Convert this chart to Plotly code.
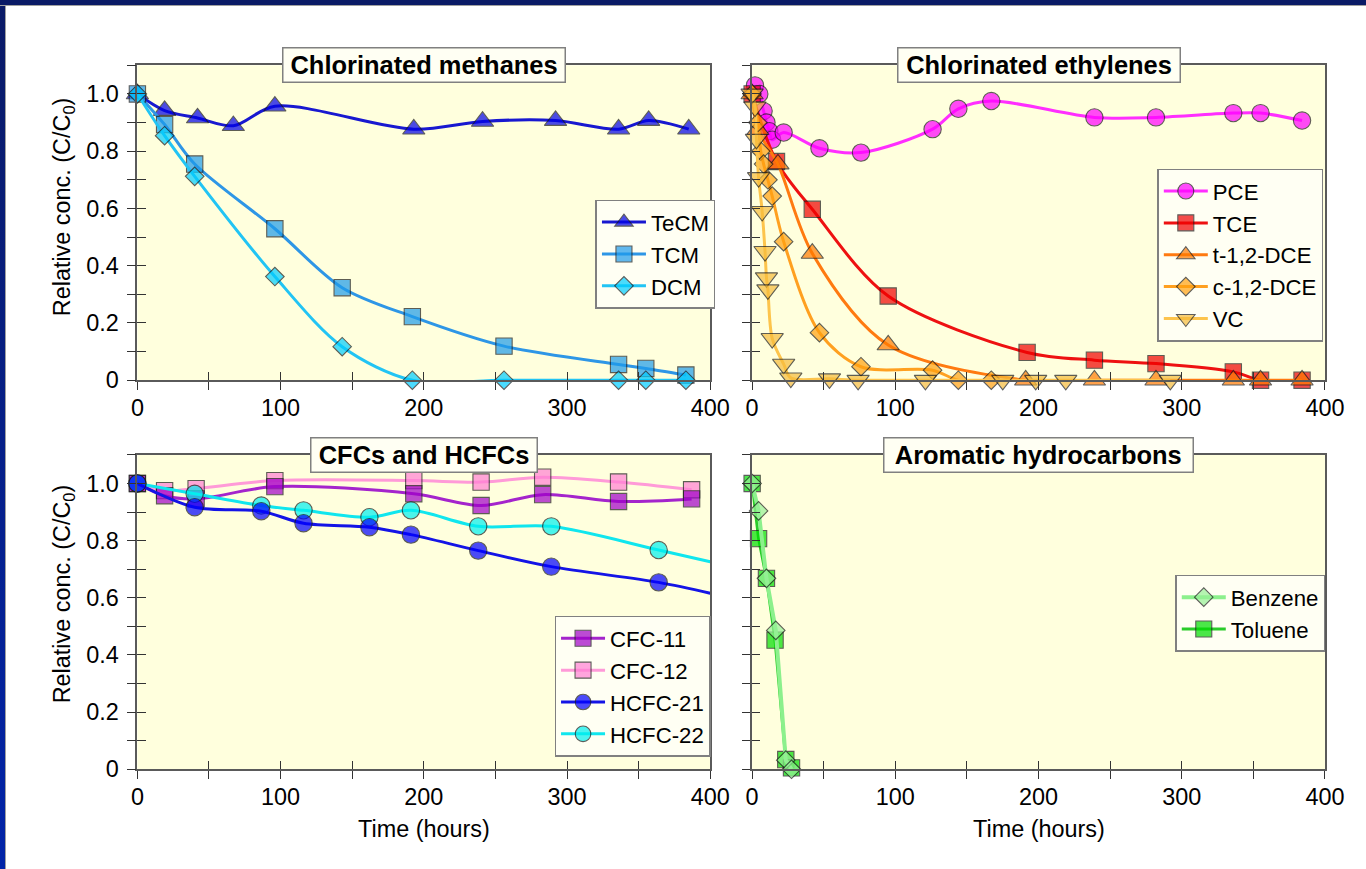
import plotly.graph_objects as go

# The photographed picture maps page pixels as  picture = S * page + (OX, OY);
# the layout below is given in picture (reference) pixels and converted back.
S, OX, OY = 0.982, 5.5, 1.0
K = 1 / S                      # size compensation for fonts / markers
MARGIN = 8                     # default browser body margin
W, H = 1366 - 2 * MARGIN, 869 - 2 * MARGIN

# ------------------------------------------------------------------ data
x_tickvals = [0, 100, 200, 300, 400]
x_ticktext = ["0", "100", "200", "300", "400"]
x_minorvals = [50, 150, 250, 350]
y_tickvals = [0, 0.2, 0.4, 0.6, 0.8, 1.0]
y_ticktext = ["0", "0.2", "0.4", "0.6", "0.8", "1.0"]
y_minorvals = [0.1, 0.3, 0.5, 0.7, 0.9, 1.1]

panel_titles = ["Chlorinated methanes", "Chlorinated ethylenes",
                "CFCs and HCFCs", "Aromatic hydrocarbons"]
y_title = "Relative conc. (C/C<sub>0</sub>)"
x_title = "Time (hours)"

# Chlorinated methanes
tecm_x = [0, 19, 42, 67, 96, 193, 241, 292, 336, 357, 385]
tecm_y = [1.0, 0.942, 0.916, 0.889, 0.957, 0.877, 0.904, 0.907, 0.877, 0.907, 0.877]
tcm_x = [0, 19, 40, 96, 143, 192, 256, 336, 355, 383]
tcm_y = [1.0, 0.893, 0.755, 0.529, 0.323, 0.222, 0.119, 0.055, 0.041, 0.018]
dcm_x = [0, 19, 40, 96, 143, 192, 256, 336, 355, 383]
dcm_y = [1.0, 0.854, 0.712, 0.362, 0.117, 0.0, 0.0, 0.0, 0.0, 0.0]

# Chlorinated ethylenes
pce_x = [2, 5, 8, 10, 12, 14, 22, 47, 76, 126, 144, 167, 239, 282, 336, 355, 384]
pce_y = [1.03, 1.0, 0.94, 0.90, 0.87, 0.84, 0.865, 0.81, 0.795, 0.877, 0.948,
         0.975, 0.918, 0.918, 0.933, 0.933, 0.907]
tce_x = [0, 17, 42, 95, 192, 239, 282, 336, 355, 384]
tce_y = [1.0, 0.764, 0.597, 0.294, 0.097, 0.070, 0.058, 0.029, 0.0, 0.0]
tdce_x = [0, 4, 18, 42, 95, 191, 239, 282, 336, 355, 384]
tdce_y = [1.0, 0.875, 0.755, 0.443, 0.123, 0.0, 0.0, 0.0, 0.0, 0.0, 0.0]
cdce_x = [0, 4, 6, 8, 11, 14, 22, 47, 76, 126, 144, 167]
cdce_y = [1.0, 0.90, 0.80, 0.755, 0.70, 0.643, 0.484, 0.166, 0.047, 0.035, 0.0, 0.0]
vc_x = [0, 2, 3, 4.5, 7, 9, 10, 11, 14, 22, 27, 54, 74, 121, 175, 198, 219, 292]
vc_y = [1.0, 0.955, 0.842, 0.708, 0.59, 0.45, 0.358, 0.316, 0.146, 0.056, 0.008,
        0.005, 0.0, 0.0, 0.0, 0.0, 0.0, 0.0]

# CFCs and HCFCs
cfc11_x = [0, 19, 41, 96, 193, 240, 283, 336, 387]
cfc11_y = [1.0, 0.957, 0.946, 0.989, 0.964, 0.923, 0.961, 0.937, 0.946]
cfc12_x = [0, 19, 41, 96, 193, 240, 283, 336, 387]
cfc12_y = [1.0, 0.975, 0.982, 1.01, 1.01, 1.005, 1.022, 1.005, 0.978]
hcfc21_x = [0, 40, 86.5, 116, 162, 191, 238, 289, 364, 400]
hcfc21_y = [1.0, 0.917, 0.903, 0.861, 0.847, 0.821, 0.765, 0.709, 0.654, 0.616]
hcfc22_x = [0, 40, 86.5, 116, 162, 191, 238, 289, 364, 400]
hcfc22_y = [1.0, 0.964, 0.923, 0.906, 0.882, 0.906, 0.85, 0.85, 0.767, 0.726]

# Aromatic hydrocarbons
benz_x = [0, 4.5, 10, 16.5, 23.5, 27.5]
benz_y = [1.0, 0.904, 0.668, 0.486, 0.032, 0.0]
tol_x = [0, 4.5, 10, 16, 23.5, 27.5]
tol_y = [1.0, 0.807, 0.668, 0.452, 0.034, 0.005]

# ------------------------------------------------------------------ styles
FONT = "Arial, Liberation Sans, sans-serif"
PLOT_BG = "#FFFFDD"
BOX_BG = "#FFFFF3"
BOX_LINE = "#808080"
TICK_COLOR = "#333333"
F_TICK, F_LEG, F_TITLE, F_AX = 23 * K, 21.8 * K, 25 * K, 23 * K


def fx(t):  # picture pixel -> paper x
    return ((t - OX) / S - MARGIN) / W


def fy(t):  # picture pixel -> paper y
    return 1 - ((t - OY) / S - MARGIN) / H


# panel picture-pixel boxes: left, right, top, bottom
panels = [(136, 710, 66, 380), (752, 1326, 66, 380),
          (136, 710, 454.5, 768), (752, 1326, 454.5, 768)]
title_box_w = [279, 279, 224, 305]
legend_pos = [(595, 200), (1158, 169), (554, 615), (1176, 574)]
x_title_pos = [(423, 828), (1039, 828)]
y_title_pos = [(62, 207), (62, 593)]

# draw order (later = on top); legend order given by rank
series = [
    # panel, rank, name, x, y, symbol, size, fill, line, width, shape
    (1, 1, "TeCM", tecm_x, tecm_y, "triangle-up", 19, "#0000E6", "#1818D0", 3, "spline"),
    (1, 2, "TCM", tcm_x, tcm_y, "square", 16, "#1E9BEB", "#2E96E6", 3, "spline"),
    (1, 3, "DCM", dcm_x, dcm_y, "diamond", 14, "#00CCFF", "#22C4F4", 3, "spline"),
    (2, 1, "PCE", pce_x, pce_y, "circle", 17, "#FF00FF", "#FF2EFF", 3, "spline"),
    (2, 2, "TCE", tce_x, tce_y, "square", 16, "#F00000", "#EE1111", 3, "spline"),
    (2, 3, "t-1,2-DCE", tdce_x, tdce_y, "triangle-up", 19, "#FF7A00", "#FF7A10", 3, "spline"),
    (2, 4, "c-1,2-DCE", cdce_x, cdce_y, "diamond", 14, "#FFA010", "#FFA020", 3, "spline"),
    (2, 5, "VC", vc_x, vc_y, "triangle-down", 19, "#F6BC3C", "#FDC44C", 3, "spline"),
    (3, 2, "CFC-12", cfc12_x, cfc12_y, "square", 16, "#FF80D4", "#FF9AD8", 3, "spline"),
    (3, 1, "CFC-11", cfc11_x, cfc11_y, "square", 16, "#A000C8", "#A424CC", 3, "spline"),
    (3, 4, "HCFC-22", hcfc22_x, hcfc22_y, "circle", 17, "#00F0F0", "#10E6EE", 3, "spline"),
    (3, 3, "HCFC-21", hcfc21_x, hcfc21_y, "circle", 17, "#0000FF", "#1414E6", 3, "spline"),
    (4, 2, "Toluene", tol_x, tol_y, "square", 16, "#00DD00", "#2ACC2A", 3, "linear"),
    (4, 1, "Benzene", benz_x, benz_y, "diamond", 14, "#96F096", "#8CF08C", 4, "linear"),
]


def sfx(n):
    return "" if n == 1 else str(n)


fig = go.Figure()

for (p, rank, name, xs, ys, sym, size, fill, line, lw, shape) in series:
    sizes = [size * K] * len(xs)
    if name in ("HCFC-21", "HCFC-22"):
        sizes[-1] = 0  # line continues to the frame edge without a marker
    fig.add_trace(go.Scatter(
        x=xs, y=ys, name=name, mode="lines+markers",
        xaxis="x" + sfx(p), yaxis="y" + sfx(p),
        legend="legend" + sfx(p), legendrank=rank,
        line=dict(color=line, width=lw, shape=shape, smoothing=0.9),
        marker=dict(symbol=sym, size=sizes, color=fill,
                    line=dict(color="#1A1A1A", width=1.1)),
        cliponaxis=False, hoverinfo="skip",
    ))

layout = dict(
    width=W, height=H,
    margin=dict(l=0, r=0, t=0, b=0),
    paper_bgcolor="white",
    plot_bgcolor=PLOT_BG,
    font=dict(family=FONT, color="black", size=F_TICK),
    showlegend=True,
)

annotations = []
TL = 8 * K

for i, (x0, x1, yt, yb) in enumerate(panels):
    n = i + 1
    dx = [fx(x0), fx(x1)]
    dy = [fy(yb), fy(yt)]
    common = dict(showgrid=False, zeroline=False, fixedrange=True,
                  tickcolor=TICK_COLOR, tickwidth=1.2, ticklen=TL)
    layout["xaxis" + sfx(n)] = dict(
        domain=dx, range=[0, 400], anchor="y" + sfx(n),
        tickmode="array", tickvals=x_tickvals, ticktext=x_ticktext,
        ticks="outside", showline=True, linecolor="#5A5A5A", linewidth=1.5,
        mirror=True, tickfont=dict(size=F_TICK), ticklabelstandoff=-2,
        minor=dict(tickmode="array", tickvals=x_minorvals, ticks="outside",
                   ticklen=TL, tickcolor=TICK_COLOR, tickwidth=1.2),
        **common)
    layout["yaxis" + sfx(n)] = dict(
        domain=dy, range=[0, 1.1], anchor="x" + sfx(n),
        tickmode="array", tickvals=y_tickvals, ticktext=y_ticktext,
        ticks="outside", showline=True, linecolor="#5A5A5A", linewidth=1.5,
        mirror=True, showticklabels=(n in (1, 3)), tickfont=dict(size=F_TICK),
        ticklabelstandoff=4,
        minor=dict(tickmode="array", tickvals=y_minorvals, ticks="outside",
                   ticklen=TL, tickcolor=TICK_COLOR, tickwidth=1.2),
        **common)
    # overlay axes that draw the inner half of the crossing ticks
    m = n + 4
    layout["xaxis" + str(m)] = dict(
        domain=dx, range=[0, 400], anchor="y" + str(m), overlaying="x" + sfx(n),
        tickmode="array", tickvals=x_tickvals + x_minorvals, ticks="inside",
        showticklabels=False, showline=False, **common)
    layout["yaxis" + str(m)] = dict(
        domain=dy, range=[0, 1.1], anchor="x" + str(m), overlaying="y" + sfx(n),
        tickmode="array", tickvals=y_tickvals + y_minorvals, ticks="inside",
        showticklabels=False, showline=False, **common)
    fig.add_trace(go.Scatter(x=[], y=[], xaxis="x" + str(m), yaxis="y" + str(m),
                             showlegend=False, hoverinfo="skip"))

    # panel title box
    bw, bp = 1.5, 2
    annotations.append(dict(
        text="<b>" + panel_titles[i] + "</b>", xref="paper", yref="paper",
        x=fx((x0 + x1) / 2), y=fy(yt), xanchor="center", yanchor="middle",
        showarrow=False, font=dict(size=F_TITLE, family=FONT, color="black"),
        bgcolor=BOX_BG, bordercolor=BOX_LINE, borderwidth=bw, borderpad=bp,
        width=title_box_w[i] * K - 2 * (bw + bp), height=35 * K - 2 * (bw + bp)))

    # legend
    lx, ly = legend_pos[i]
    layout["legend" + sfx(n)] = dict(
        x=fx(lx), y=fy(ly), xanchor="left", yanchor="top",
        xref="paper", yref="paper",
        bgcolor=BOX_BG, bordercolor=BOX_LINE, borderwidth=1.5,
        font=dict(size=F_LEG, family=FONT, color="black"),
        itemwidth=44, tracegroupgap=0,
        itemclick=False, itemdoubleclick=False)

# axis titles
for cx, cy in y_title_pos:
    annotations.append(dict(
        text=y_title, xref="paper", yref="paper", x=fx(cx), y=fy(cy),
        xanchor="center", yanchor="middle", textangle=-90, showarrow=False,
        font=dict(size=F_AX, family=FONT, color="black")))
for cx, cy in x_title_pos:
    annotations.append(dict(
        text=x_title, xref="paper", yref="paper", x=fx(cx), y=fy(cy),
        xanchor="center", yanchor="middle", showarrow=False,
        font=dict(size=F_AX, family=FONT, color="black")))

layout["annotations"] = annotations
fig.update_layout(**layout)

# dark slide frame along the top and left page edges (page background)
frame_js = (
    "document.body.style.background="
    "'linear-gradient(#0A1A66,#0A1A66) 0 0 / 100% 5px no-repeat,"
    " linear-gradient(#A0A0A0,#A0A0A0) 0 5px / 100% 1px no-repeat,"
    " linear-gradient(to bottom,#0A1A66,#0224A8) 0 0 / 5px 100% no-repeat,"
    " linear-gradient(#A0A0A0,#A0A0A0) 5px 0 / 1px 100% no-repeat,"
    " #ffffff';"
)

fig.write_html("out.html", config={"displayModeBar": False}, post_script=frame_js)
